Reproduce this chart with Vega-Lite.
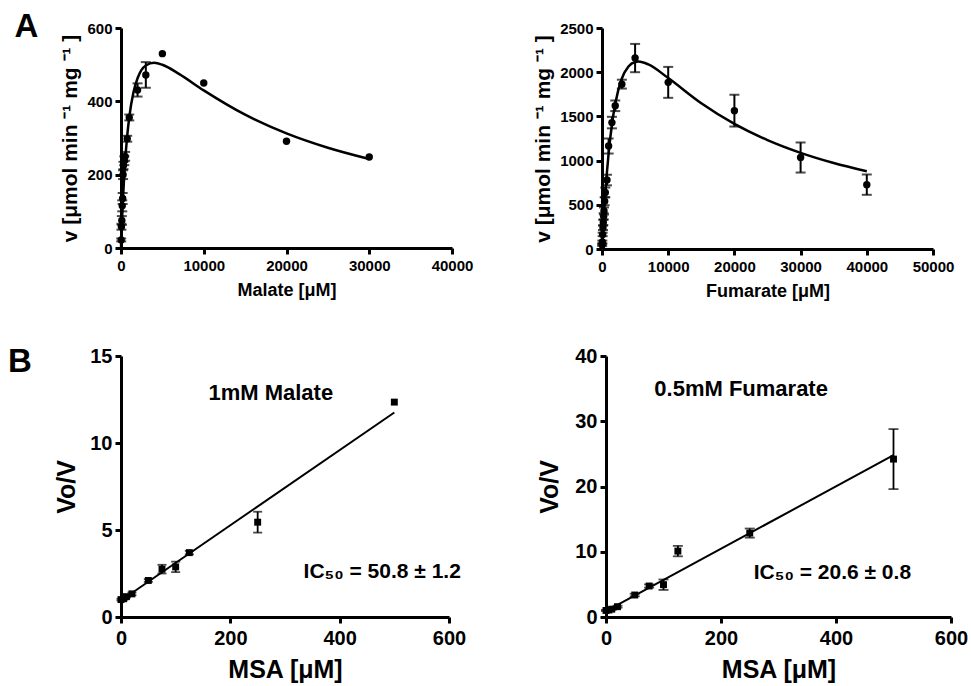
{
  "$schema": "https://vega.github.io/schema/vega-lite/v6.json",
  "padding": {"left": 7, "top": 11, "right": 5, "bottom": 2},
  "background": "white",
  "config": {
    "font": "Liberation Sans",
    "view": {"stroke": null},
    "axis": {"domainColor": "black", "domainWidth": 3, "tickColor": "black", "tickWidth": 3, "tickSize": 6, "labelColor": "black", "labelFontWeight": "bold", "titleColor": "black", "titleFontWeight": "bold", "grid": false, "labelFont": "Liberation Sans", "titleFont": "Liberation Sans", "labelFlush": false, "labelOverlap": false, "format": "d"},
    "text": {"font": "Liberation Sans", "fontWeight": "bold", "color": "black"}
  },
  "datasets": {
    "malCurve": [
      {"S": 0, "v": 0}, {"S": 50, "v": 32.5}, {"S": 100, "v": 62.4}, {"S": 175, "v": 103.2}, {"S": 250, "v": 139.5}, {"S": 375, "v": 192}, {"S": 500, "v": 236.2}, {"S": 750, "v": 305.5}, {"S": 1000, "v": 356.6}, {"S": 1500, "v": 423.9}, {"S": 2000, "v": 463}, {"S": 3000, "v": 497.9}, {"S": 4000, "v": 505.1}, {"S": 5000, "v": 499.8}, {"S": 7000, "v": 474.9}, {"S": 10000, "v": 429.8}, {"S": 15000, "v": 363.5}, {"S": 20000, "v": 312.5}, {"S": 25000, "v": 273.3}, {"S": 30000, "v": 242.6}
    ],
    "malPts": [
      {"S": 25, "v": 22, "e": 4}, {"S": 50, "v": 58, "e": 8}, {"S": 100, "v": 75, "e": 12}, {"S": 150, "v": 115, "e": 15}, {"S": 200, "v": 135, "e": 15}, {"S": 250, "v": 200, "e": 12}, {"S": 300, "v": 225, "e": 10}, {"S": 400, "v": 238, "e": 12}, {"S": 500, "v": 250, "e": 12}, {"S": 750, "v": 298, "e": 8}, {"S": 1000, "v": 356, "e": 8}, {"S": 2000, "v": 431, "e": 18}, {"S": 3000, "v": 472, "e": 35}, {"S": 5000, "v": 530, "e": 0}, {"S": 10000, "v": 450, "e": 0}, {"S": 20000, "v": 291, "e": 0}, {"S": 30000, "v": 248, "e": 0}
    ],
    "fumCurve": [
      {"S": 0, "v": 0}, {"S": 100, "v": 143}, {"S": 250, "v": 340}, {"S": 500, "v": 629}, {"S": 750, "v": 874}, {"S": 1000, "v": 1081}, {"S": 1500, "v": 1408}, {"S": 2000, "v": 1643}, {"S": 3000, "v": 1929}, {"S": 4000, "v": 2065}, {"S": 5000, "v": 2115}, {"S": 5500, "v": 2120}, {"S": 7000, "v": 2088}, {"S": 10000, "v": 1934}, {"S": 15000, "v": 1649}, {"S": 20000, "v": 1415}, {"S": 25000, "v": 1232}, {"S": 30000, "v": 1088}, {"S": 35000, "v": 973}, {"S": 40000, "v": 879}
    ],
    "fumPts": [
      {"S": 25, "v": 45, "e": 10}, {"S": 50, "v": 80, "e": 15}, {"S": 100, "v": 165, "e": 20}, {"S": 150, "v": 240, "e": 25}, {"S": 200, "v": 300, "e": 30}, {"S": 250, "v": 370, "e": 35}, {"S": 300, "v": 430, "e": 40}, {"S": 400, "v": 540, "e": 45}, {"S": 500, "v": 640, "e": 55}, {"S": 750, "v": 780, "e": 60}, {"S": 1000, "v": 1165, "e": 85}, {"S": 1500, "v": 1430, "e": 65}, {"S": 2000, "v": 1620, "e": 60}, {"S": 3000, "v": 1865, "e": 50}, {"S": 5000, "v": 2160, "e": 160}, {"S": 10000, "v": 1885, "e": 175}, {"S": 20000, "v": 1565, "e": 180}, {"S": 30000, "v": 1035, "e": 170}, {"S": 40000, "v": 728, "e": 115}
    ],
    "msaMal": [
      {"MSA": 0, "r": 1.0, "e": 0.05}, {"MSA": 5, "r": 1.05, "e": 0.05}, {"MSA": 10, "r": 1.17, "e": 0.05}, {"MSA": 20, "r": 1.33, "e": 0.08}, {"MSA": 50, "r": 2.1, "e": 0.08}, {"MSA": 75, "r": 2.75, "e": 0.25}, {"MSA": 100, "r": 2.88, "e": 0.3}, {"MSA": 125, "r": 3.7, "e": 0.1}, {"MSA": 250, "r": 5.45, "e": 0.6}, {"MSA": 500, "r": 12.35, "e": 0}
    ],
    "msaMalLine": [{"MSA": 0, "r": 0.95}, {"MSA": 500, "r": 11.75}],
    "msaFum": [
      {"MSA": 0, "r": 1.0, "e": 0.1}, {"MSA": 5, "r": 1.07, "e": 0.1}, {"MSA": 10, "r": 1.2, "e": 0.1}, {"MSA": 20, "r": 1.58, "e": 0.15}, {"MSA": 50, "r": 3.37, "e": 0.2}, {"MSA": 75, "r": 4.75, "e": 0.25}, {"MSA": 100, "r": 4.95, "e": 0.8}, {"MSA": 125, "r": 10.1, "e": 0.8}, {"MSA": 250, "r": 12.86, "e": 0.7}, {"MSA": 500, "r": 24.2, "e": 4.6}
    ],
    "msaFumLine": [{"MSA": 0, "r": 0.9}, {"MSA": 500, "r": 24.8}]
  },
  "concat": [
    {
      "spacing": 59,
      "hconcat": [
        {
          "width": 331, "height": 220,
          "encoding": {
            "x": {"field": "S", "type": "quantitative", "scale": {"domain": [0, 40000], "nice": false}, "axis": {"title": "Malate [μM]", "values": [0, 10000, 20000, 30000, 40000], "labelFontSize": 15, "titleFontSize": 18, "labelPadding": 4, "titlePadding": 8}},
            "y": {"field": "v", "type": "quantitative", "scale": {"domain": [0, 600], "nice": false}, "axis": {"title": "v [μmol min ⁻¹ mg ⁻¹ ]", "values": [0, 200, 400, 600], "labelFontSize": 15, "titleFontSize": 21, "labelPadding": 3, "titlePadding": 6}}
          },
          "layer": [
            {"data": {"name": "malCurve"}, "mark": {"type": "line", "color": "black", "strokeWidth": 2.5, "interpolate": "monotone"}},
            {"data": {"name": "malPts"}, "transform": [{"filter": "datum.e > 0"}], "mark": {"type": "errorbar", "ticks": true, "size": 10, "thickness": 2, "color": "black"}, "encoding": {"yError": {"field": "e"}}},
            {"data": {"name": "malPts"}, "mark": {"type": "circle", "size": 55, "color": "black", "opacity": 1}},
            {"data": {"values": [{"S": -11420, "v": 575, "label": "A"}]}, "mark": {"type": "text", "fontSize": 33, "align": "center", "baseline": "alphabetic"}, "encoding": {"text": {"field": "label"}}}
          ]
        },
        {
          "width": 331, "height": 221,
          "encoding": {
            "x": {"field": "S", "type": "quantitative", "scale": {"domain": [0, 50000], "nice": false}, "axis": {"title": "Fumarate [μM]", "values": [0, 10000, 20000, 30000, 40000, 50000], "labelFontSize": 15, "titleFontSize": 18, "labelPadding": 4, "titlePadding": 8}},
            "y": {"field": "v", "type": "quantitative", "scale": {"domain": [0, 2500], "nice": false}, "axis": {"title": "v [μmol min ⁻¹ mg ⁻¹ ]", "values": [0, 500, 1000, 1500, 2000, 2500], "labelFontSize": 15, "titleFontSize": 21, "labelPadding": 3, "titlePadding": 6}}
          },
          "layer": [
            {"data": {"name": "fumCurve"}, "mark": {"type": "line", "color": "black", "strokeWidth": 2.5, "interpolate": "monotone"}},
            {"data": {"name": "fumPts"}, "transform": [{"filter": "datum.e > 0"}], "mark": {"type": "errorbar", "ticks": true, "size": 10, "thickness": 2, "color": "black"}, "encoding": {"yError": {"field": "e"}}},
            {"data": {"name": "fumPts"}, "mark": {"type": "circle", "size": 55, "color": "black", "opacity": 1}}
          ]
        }
      ]
    },
    {
      "spacing": 71,
      "hconcat": [
        {
          "width": 328, "height": 261,
          "encoding": {
            "x": {"field": "MSA", "type": "quantitative", "scale": {"domain": [0, 600], "nice": false}, "axis": {"title": "MSA [μM]", "values": [0, 200, 400, 600], "labelFontSize": 20, "titleFontSize": 25, "labelPadding": 5, "titlePadding": 9}},
            "y": {"field": "r", "type": "quantitative", "scale": {"domain": [0, 15], "nice": false}, "axis": {"title": "Vo/V", "values": [0, 5, 10, 15], "labelFontSize": 20, "titleFontSize": 25, "labelPadding": 3, "titlePadding": 10}}
          },
          "layer": [
            {"data": {"name": "msaMalLine"}, "mark": {"type": "line", "color": "black", "strokeWidth": 2}},
            {"data": {"name": "msaMal"}, "transform": [{"filter": "datum.e > 0"}], "mark": {"type": "errorbar", "ticks": true, "size": 9, "thickness": 1.8, "color": "black"}, "encoding": {"yError": {"field": "e"}}},
            {"data": {"name": "msaMal"}, "mark": {"type": "square", "size": 48, "color": "black", "opacity": 1}},
            {"data": {"values": [{"MSA": 274, "r": 12.47, "label": "1mM Malate"}]}, "mark": {"type": "text", "fontSize": 22, "align": "center", "baseline": "alphabetic"}, "encoding": {"text": {"field": "label"}}},
            {"data": {"values": [{"MSA": 334, "r": 2.24, "label": "IC₅₀ = 50.8 ± 1.2"}]}, "mark": {"type": "text", "fontSize": 21, "align": "left", "baseline": "alphabetic"}, "encoding": {"text": {"field": "label"}}},
            {"data": {"values": [{"MSA": -185, "r": 14.08, "label": "B"}]}, "mark": {"type": "text", "fontSize": 33, "align": "center", "baseline": "alphabetic"}, "encoding": {"text": {"field": "label"}}}
          ]
        },
        {
          "width": 345, "height": 261,
          "encoding": {
            "x": {"field": "MSA", "type": "quantitative", "scale": {"domain": [0, 600], "nice": false}, "axis": {"title": "MSA [μM]", "values": [0, 200, 400, 600], "labelFontSize": 20, "titleFontSize": 25, "labelPadding": 5, "titlePadding": 9}},
            "y": {"field": "r", "type": "quantitative", "scale": {"domain": [0, 40], "nice": false}, "axis": {"title": "Vo/V", "values": [0, 10, 20, 30, 40], "labelFontSize": 20, "titleFontSize": 25, "labelPadding": 3, "titlePadding": 12}}
          },
          "layer": [
            {"data": {"name": "msaFumLine"}, "mark": {"type": "line", "color": "black", "strokeWidth": 2}},
            {"data": {"name": "msaFum"}, "mark": {"type": "errorbar", "ticks": true, "size": 10, "thickness": 1.8, "color": "black"}, "encoding": {"yError": {"field": "e"}}},
            {"data": {"name": "msaFum"}, "mark": {"type": "square", "size": 48, "color": "black", "opacity": 1}},
            {"data": {"values": [{"MSA": 235, "r": 33.8, "label": "0.5mM Fumarate"}]}, "mark": {"type": "text", "fontSize": 22, "align": "center", "baseline": "alphabetic"}, "encoding": {"text": {"field": "label"}}},
            {"data": {"values": [{"MSA": 257, "r": 5.78, "label": "IC₅₀ = 20.6 ± 0.8"}]}, "mark": {"type": "text", "fontSize": 21, "align": "left", "baseline": "alphabetic"}, "encoding": {"text": {"field": "label"}}}
          ]
        }
      ]
    }
  ],
  "columns": 1,
  "align": "none",
  "spacing": 46
}
